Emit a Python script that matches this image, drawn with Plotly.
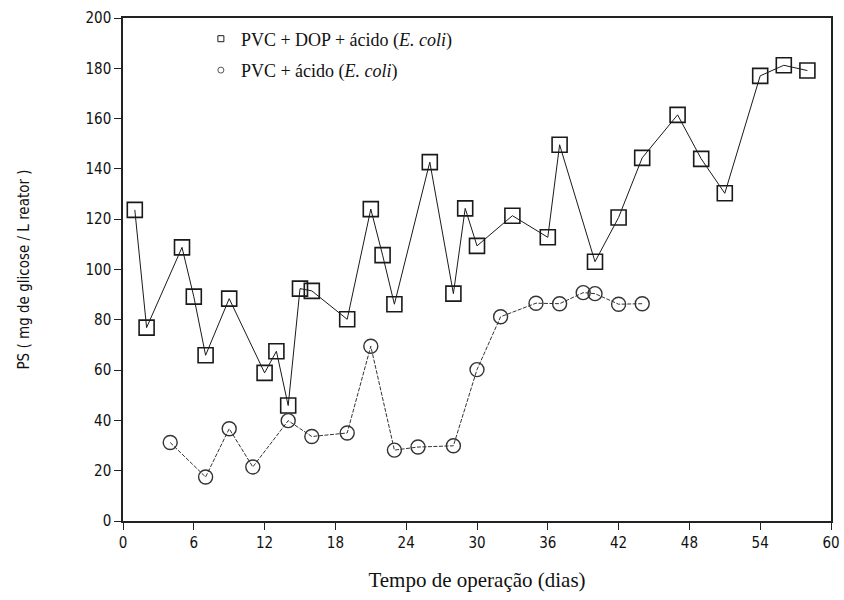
import plotly.graph_objects as go

# PVC + DOP + ácido (E. coli)  -- squares
dop_x = [1, 2, 5, 6, 7, 9, 12, 13, 14, 15, 16, 19, 21, 22, 23, 26, 28, 29, 30,
         33, 36, 37, 40, 42, 44, 47, 49, 51, 54, 56, 58]
dop_y = [123.7, 76.9, 108.8, 89.2, 65.9, 88.4, 58.9, 67.5, 45.9, 92.4, 91.5, 80.2,
         124.0, 105.7, 86.2, 142.7, 90.4, 124.3, 109.4, 121.4, 112.8, 149.6, 103.1,
         120.7, 144.4, 161.5, 144.0, 130.3, 177.0, 181.2, 179.1]

# PVC + ácido (E. coli)  -- circles
ac_x = [4, 7, 9, 11, 14, 16, 19, 21, 23, 25, 28, 30, 32, 35, 37, 39, 40, 42, 44]
ac_y = [31.2, 17.5, 36.7, 21.5, 39.9, 33.6, 35.0, 69.5, 28.2, 29.4, 29.9, 60.2,
        81.2, 86.6, 86.4, 90.8, 90.4, 86.2, 86.4]

x_ticks = [0, 6, 12, 18, 24, 30, 36, 42, 48, 54, 60]
y_ticks = [0, 20, 40, 60, 80, 100, 120, 140, 160, 180, 200]

name_dop = "PVC + DOP + ácido (<i>E. coli</i>)"
name_ac = "PVC + ácido (<i>E. coli</i>)"

fig = go.Figure()
fig.add_trace(go.Scatter(
    x=dop_x, y=dop_y, mode="lines+markers", showlegend=False,
    line=dict(color="#1a1a1a", width=1),
    marker=dict(symbol="square-open", size=15, color="#1a1a1a", line=dict(width=1.6)),
))
fig.add_trace(go.Scatter(
    x=ac_x, y=ac_y, mode="lines+markers", showlegend=False,
    line=dict(color="#333333", width=1, dash="4px,1.5px"),
    marker=dict(symbol="circle-open", size=14, color="#333333", line=dict(width=1.4)),
))
# legend entries (small symbols, as in the original)
fig.add_trace(go.Scatter(
    x=[None], y=[None], mode="markers", name=name_dop, legendgroup="a",
    marker=dict(symbol="square-open", size=6, color="#1a1a1a", line=dict(width=1)),
))
fig.add_trace(go.Scatter(
    x=[None], y=[None], mode="markers", name=name_ac, legendgroup="b",
    marker=dict(symbol="circle-open", size=6, color="#555555", line=dict(width=1)),
))

tick_font = dict(family="DejaVu Sans Condensed, Liberation Sans Narrow, sans-serif",
                 size=15, color="#111111")

fig.update_layout(
    width=844, height=600,
    margin=dict(l=123, r=4, t=18, b=79),
    paper_bgcolor="white", plot_bgcolor="white",
    showlegend=True,
    legend=dict(x=0.11, y=0.995, xanchor="left", yanchor="top",
                bgcolor="rgba(0,0,0,0)",
                font=dict(family="Liberation Serif, Times New Roman, serif", size=18,
                          color="#111111"),
                traceorder="grouped", tracegroupgap=5, itemwidth=30),
    xaxis=dict(range=[0, 60], tickvals=x_ticks, ticktext=[str(v) for v in x_ticks],
               ticks="outside", ticklen=7, tickcolor="#222", tickwidth=1,
               ticklabeloverflow="allow",
               showline=True, linecolor="#222", linewidth=1.5, mirror=True,
               showgrid=False, zeroline=False, tickfont=tick_font,
               title=dict(text="Tempo de operação (dias)", standoff=22,
                          font=dict(family="Liberation Serif, Times New Roman, serif",
                                    size=21, color="#111111"))),
    yaxis=dict(range=[0, 200], tickvals=y_ticks, ticktext=[str(v) for v in y_ticks],
               ticks="outside", ticklen=7, tickcolor="#222", tickwidth=1,
               showline=True, linecolor="#222", linewidth=1.5, mirror=True,
               showgrid=False, zeroline=False, tickfont=tick_font,
               title=dict(text="PS ( mg de glicose / L reator )", standoff=52,
                          font=dict(family="DejaVu Sans Condensed, Liberation Sans Narrow, sans-serif",
                                    size=15, color="#111111"))),
)

fig.write_html("out.html")
